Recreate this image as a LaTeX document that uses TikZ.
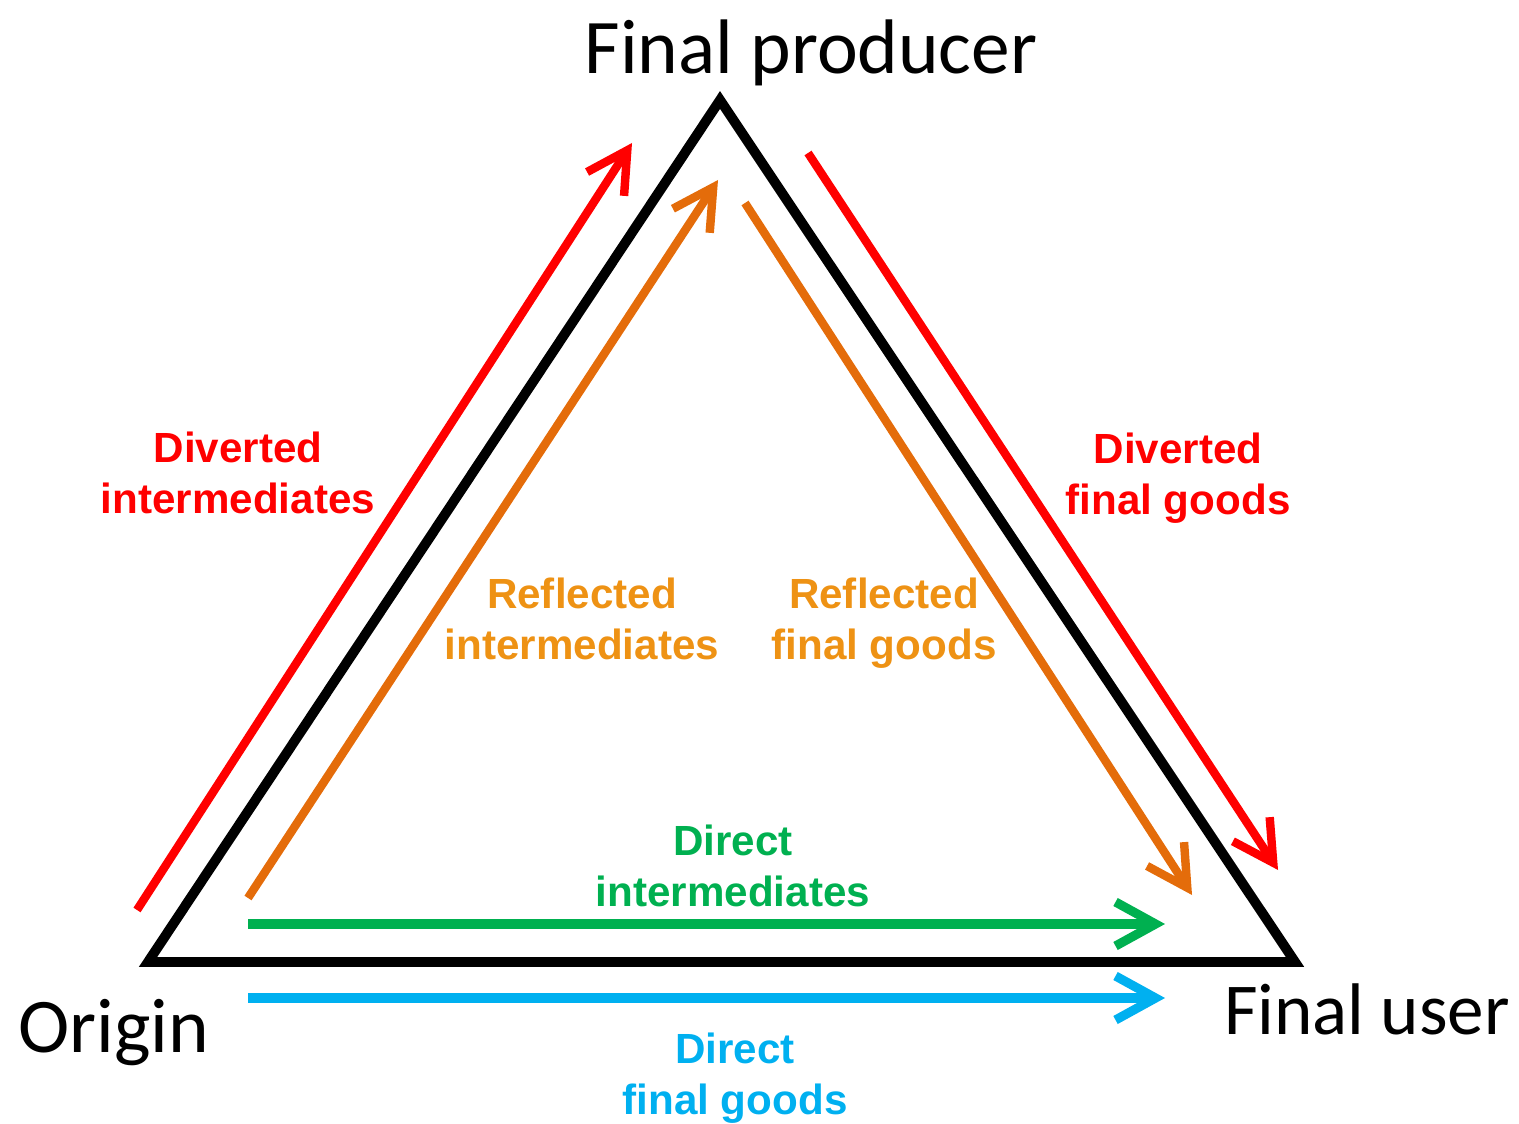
\documentclass[tikz,border=0pt]{standalone}
\usepackage{fontspec}
\setmainfont{Carlito}
\setsansfont{Liberation Sans}
\usetikzlibrary{arrows.meta}
\definecolor{flowRed}{RGB}{255,0,0}
\definecolor{flowOrange}{RGB}{228,108,10}
\definecolor{labelOrange}{RGB}{238,146,20}
\definecolor{flowGreen}{RGB}{0,176,80}
\definecolor{flowBlue}{RGB}{0,176,240}

\tikzset{
    flow/.style = {line width = 2.4pt, -{Straight Barb[length=4mm, width=4.4mm]}},
    flowlabel/.style = {align = center, font = \sffamily\bfseries\fontsize{12}{14.5}\selectfont},
    place/.style = {font = \fontsize{22}{26}\selectfont}
}

\begin{document}
\begin{tikzpicture}
            \useasboundingbox (0,0) rectangle (15.19,11.23);

            % triangle
            \coordinate (origin) at (1.48, 1.61);
            \coordinate (producer) at (7.20, 10.23);
            \coordinate (user) at (12.95, 1.61);
            \draw[line width = 2.8pt, line join = miter] (origin) -- (producer) -- (user) -- cycle;

            \node[place] (originText) at (1.14, 0.90) {Origin};
            \node[place] (producerText) at (8.11, 10.70) {Final producer};
            \node[place, font = \fontsize{20.8}{25}\selectfont] (userText) at (13.67, 1.14) {Final user};

            % arrow ends
            \coordinate (divIntA) at (1.37, 2.13);
            \coordinate (divIntB) at (6.32, 9.80);
            \coordinate (refIntA) at (2.48, 2.25);
            \coordinate (refIntB) at (7.18, 9.43);
            \coordinate (divFinA) at (8.08, 9.70);
            \coordinate (divFinB) at (12.78, 2.53);
            \coordinate (refFinA) at (7.45, 9.20);
            \coordinate (refFinB) at (11.92, 2.28);
            \coordinate (dirIntA) at (2.48, 1.99);
            \coordinate (dirIntB) at (11.65, 1.99);
            \coordinate (dirFinA) at (2.48, 1.25);
            \coordinate (dirFinB) at (11.65, 1.25);

            % arrows
            \draw[flow, flowRed] (divIntA) -- (divIntB);
            \draw[flow, flowOrange] (refIntA) -- (refIntB);
            \draw[flow, flowRed] (divFinA) -- (divFinB);
            \draw[flow, flowOrange] (refFinA) -- (refFinB);
            \draw[flow, flowGreen, line width = 2.6pt] (dirIntA) -- (dirIntB);
            \draw[flow, flowBlue, line width = 2.6pt] (dirFinA) -- (dirFinB);

            % labels
            \node[flowlabel, flowRed] (divIntText) at (2.38, 6.50) {Diverted\\intermediates};
            \node[flowlabel, flowRed] (divFinText) at (11.78, 6.45) {Diverted\\final goods};
            \node[flowlabel, labelOrange] (refIntText) at (5.82, 5.04) {Reflected\\intermediates};
            \node[flowlabel, labelOrange] (refFinText) at (8.84, 5.00) {Reflected\\final goods};
            \node[flowlabel, flowGreen] (dirIntText) at (7.33, 2.57) {Direct\\intermediates};
            \node[flowlabel, flowBlue] (dirFinText) at (7.35, 0.45) {Direct\\final goods};

        \end{tikzpicture}
\end{document}
